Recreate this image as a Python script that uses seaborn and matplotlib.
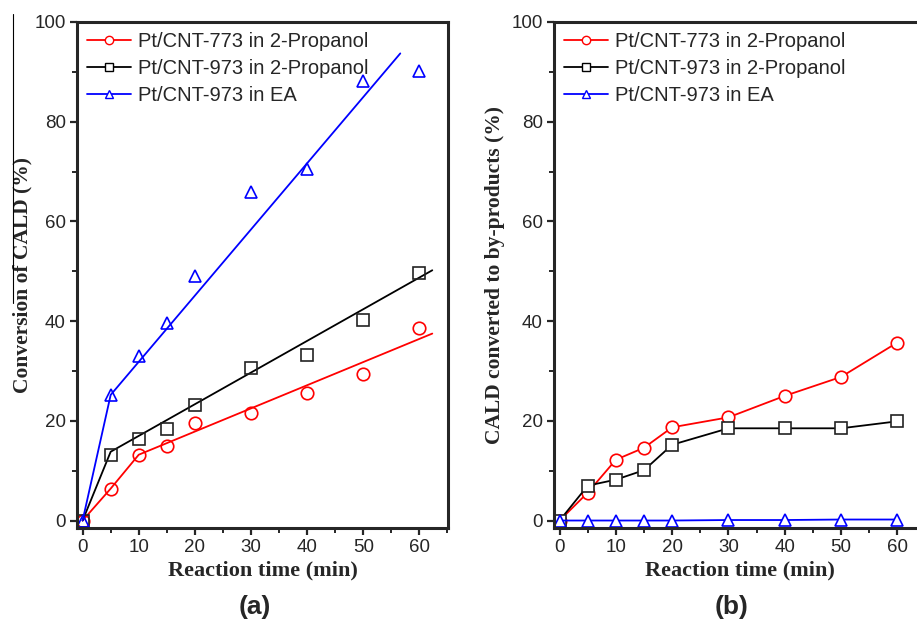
import numpy as np
import pandas as pd
import matplotlib
matplotlib.use("Agg")
import matplotlib.pyplot as plt
import seaborn as sns
from matplotlib.lines import Line2D
from matplotlib.ticker import MultipleLocator

# ---------------- data ----------------
time = [0, 5, 10, 15, 20, 30, 40, 50, 60]
series_names = ["Pt/CNT-773 in 2-Propanol", "Pt/CNT-973 in 2-Propanol", "Pt/CNT-973 in EA"]

conv_773_ipa = [0, 6.4, 13.2, 14.9, 19.5, 21.5, 25.5, 29.4, 38.7]
conv_973_ipa = [0, 13.2, 16.3, 18.3, 23.1, 30.5, 33.3, 40.2, 49.7]
conv_973_ea = [0, 25.2, 33.0, 39.7, 49.1, 65.9, 70.6, 88.2, 90.2]

# fitted trend lines (nodes)
fit_773_x = [0, 5, 10, 62.3]
fit_773_y = [0, 6.4, 13.2, 37.5]
fit_973_x = [0, 5, 62.3]
fit_973_y = [0, 13.8, 50.2]
fit_ea_x = [0, 5, 56.6]
fit_ea_y = [0, 25.2, 93.7]

byp_773_ipa = [0, 5.6, 12.2, 14.6, 18.7, 20.7, 25.0, 28.8, 35.7]
byp_973_ipa = [0, 7.0, 8.2, 10.1, 15.2, 18.5, 18.5, 18.5, 19.9]
byp_973_ea = [0, 0, 0, 0, 0, 0.1, 0.1, 0.2, 0.2]

x_ticks = [0, 10, 20, 30, 40, 50, 60]
y_ticks = [0, 20, 40, 60, 80, 100]

colors = ["#ff0000", "#000000", "#0000ff"]
markers = ["o", "s", "^"]

# ---------------- style ----------------
sns.set_style("ticks")
plt.rcParams["font.family"] = ["Liberation Sans", "DejaVu Sans"]

fig = plt.figure(figsize=(9.17, 6.27), dpi=100)
W, H = 917, 627


def px_axes(l, t, r, b):
    return fig.add_axes([l / W, 1 - b / H, (r - l) / W, (b - t) / H])


axA = px_axes(77, 22, 448, 528)
axB = px_axes(554, 22, 926, 528)

conv = [conv_773_ipa, conv_973_ipa, conv_973_ea]
fits = [(fit_773_x, fit_773_y), (fit_973_x, fit_973_y), (fit_ea_x, fit_ea_y)]
byp = [byp_773_ipa, byp_973_ipa, byp_973_ea]

# panel (a): points + trend lines
for vals, (fx, fy), c, m in zip(conv, fits, colors, markers):
    sns.lineplot(x=fx, y=fy, ax=axA, color=c, linewidth=1.3, sort=False,
                 estimator=None, legend=False)
    sns.lineplot(x=time, y=vals, ax=axA, color=c, linestyle="", marker=m,
                 markersize=9 if m != "s" else 8, markerfacecolor="none",
                 markeredgecolor=c if c != "#000000" else "#222222",
                 markeredgewidth=1.2, estimator=None, legend=False)

# panel (b): connected points
for vals, c, m in zip(byp, colors, markers):
    sns.lineplot(x=time, y=vals, ax=axB, color=c, linewidth=1.3, marker=m,
                 markersize=9 if m != "s" else 8, markerfacecolor="white",
                 markeredgecolor=c if c != "#000000" else "#222222",
                 markeredgewidth=1.2, estimator=None, legend=False)

for ax, ylab in [(axA, "Conversion of CALD (%)"),
                 (axB, "CALD converted to by-products (%)")]:
    ax.set_xlim(-1, 65.1)
    ax.set_ylim(-1.5, 100)
    ax.set_xticks(x_ticks)
    ax.set_yticks(y_ticks)
    ax.xaxis.set_minor_locator(MultipleLocator(5))
    ax.yaxis.set_minor_locator(MultipleLocator(10))
    ax.tick_params(which="major", direction="out", length=5, width=1.6,
                   labelsize=13.5, pad=3)
    ax.tick_params(which="minor", direction="out", length=3.5, width=1.4)
    for sp in ax.spines.values():
        sp.set_visible(True)
        sp.set_linewidth(2.2)
    ax.set_xlabel("Reaction time (min)", fontsize=16, fontweight="bold",
                  family=["Liberation Serif"], labelpad=3)
    ax.set_ylabel(ylab, fontsize=15.5, fontweight="bold",
                  family=["Liberation Serif"])

    handles = [Line2D([0], [0], color=c, lw=1.3, marker=m, markersize=6,
                      markerfacecolor="white", markeredgecolor=c,
                      markeredgewidth=1.0)
               for c, m in zip(colors, markers)]
    ax.legend(handles, series_names, loc="upper left", frameon=False,
              fontsize=14.5, handlelength=2.2, handletextpad=0.35,
              labelspacing=0.4, borderaxespad=0.2, borderpad=0.3)

axA.yaxis.set_label_coords(-0.119, 0.5)
axB.yaxis.set_label_coords(-0.132, 0.5)

fig.text(255 / W, 1 - 607 / H, "(a)", fontsize=19, fontweight="bold",
         ha="center", va="center")
fig.text(732 / W, 1 - 607 / H, "(b)", fontsize=19, fontweight="bold",
         ha="center", va="center")

# thin vertical frame artefact at the far left
fig.add_artist(Line2D([12.7 / W, 12.7 / W], [1 - 14 / H, 1 - 303 / H],
                      color="black", lw=0.8, transform=fig.transFigure))

fig.savefig("out.png", dpi=100)
